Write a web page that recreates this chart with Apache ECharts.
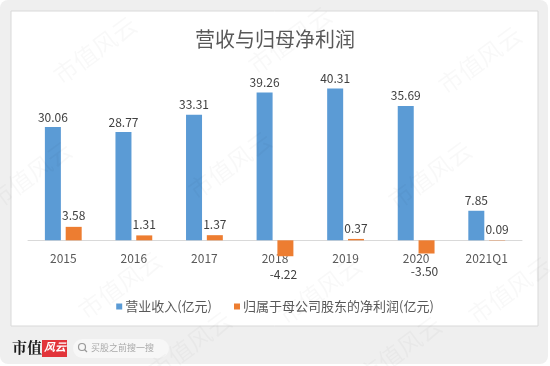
<!DOCTYPE html>
<html>
<head>
<meta charset="utf-8">
<script src="https://cdn.jsdelivr.net/npm/echarts@6/dist/echarts.min.js"></script>
<style>
  html, body { margin: 0; padding: 0; background: #fff; }
  #chart { width: 550px; height: 366px; }
</style>
</head>
<body>
<div id="chart"></div>
<script>
const categories = ["2015", "2016", "2017", "2018", "2019", "2020", "2021Q1"]
const revenue = [30.06, 28.77, 33.31, 39.26, 40.31, 35.69, 7.85]
const netProfit = [3.58, 1.31, 1.37, -4.22, 0.37, -3.50, 0.09]
const seriesNames = ["营业收入(亿元)", "归属于母公司股东的净利润(亿元)"]

const chart = echarts.init(document.getElementById("chart"))

const font = "Noto Sans CJK SC"

// faint tiled watermark
const marks = [
  [95, 50], [290, 40], [480, 60], [30, 175], [230, 165], [430, 175],
  [120, 285], [320, 290], [510, 290], [190, 345], [400, 350]
]
const watermark = marks.map(([x, y]) => ({
  type: "text",
  x: x,
  y: y,
  rotation: Math.PI / 5,
  z: 100,
  silent: true,
  style: {
    text: "市值风云",
    fill: "rgba(0,0,0,0.028)",
    font: "24px " + font,
    align: "center",
    verticalAlign: "middle"
  }
}))

const labelStyle = { color: "#404040", fontSize: 12, fontFamily: font }

const option = {
  backgroundColor: "#fff",
  animation: false,
  textStyle: { fontFamily: font },
  graphic: [
    {
      type: "rect",
      z: -10,
      shape: { x: 0, y: 0, width: 548, height: 364, r: 8 },
      style: { fill: "#efefef" }
    },
    {
      type: "rect",
      z: -9,
      shape: { x: 11, y: 11, width: 527, height: 315 },
      style: { fill: "#fff", stroke: "#d9d9d9", lineWidth: 1 }
    },
    {
      type: "text",
      x: 12,
      y: 340,
      style: { text: "市值", fill: "#1a1a1a", font: "bold 15px 'Noto Serif CJK SC', " + font }
    },
    {
      type: "rect",
      shape: { x: 42, y: 340, width: 25, height: 17 },
      style: { fill: "#e2343a" }
    },
    {
      type: "text",
      x: 44,
      y: 341,
      style: { text: "风云", fill: "#fff", font: "italic bold 11px " + font }
    },
    {
      type: "rect",
      shape: { x: 73, y: 339, width: 96, height: 19, r: 9.5 },
      style: { fill: "#f7f7f7" }
    },
    {
      type: "circle",
      shape: { cx: 82, cy: 347, r: 3.5 },
      style: { fill: "none", stroke: "#999", lineWidth: 1.2 }
    },
    {
      type: "line",
      shape: { x1: 84.5, y1: 349.5, x2: 87, y2: 352 },
      style: { stroke: "#999", lineWidth: 1.2 }
    },
    {
      type: "text",
      x: 91,
      y: 343,
      style: { text: "买股之前搜一搜", fill: "#aaa", font: "9px " + font }
    }
  ].concat(watermark),
  title: {
    text: "营收与归母净利润",
    left: "center",
    top: 24,
    textStyle: { fontSize: 20, fontWeight: "normal", color: "#595959", fontFamily: font }
  },
  legend: {
    data: seriesNames,
    bottom: 48,
    left: "center",
    itemWidth: 6,
    itemHeight: 6,
    itemGap: 22,
    icon: "rect",
    textStyle: { fontSize: 13, color: "#595959", fontFamily: font, padding: [0, 0, 0, -2] }
  },
  grid: {
    left: 28,
    right: 28,
    top: 52,
    height: 226
  },
  xAxis: {
    type: "category",
    data: categories,
    axisLine: { onZero: true, lineStyle: { color: "#d9d9d9" } },
    axisTick: { show: false },
    // labels sit just under the zero line, which is 38px above the grid bottom
    axisLabel: { color: "#595959", fontSize: 12, fontFamily: font, margin: -26 }
  },
  yAxis: {
    type: "value",
    min: -10,
    max: 50,
    axisLine: { show: false },
    axisTick: { show: false },
    axisLabel: { show: false },
    splitLine: { show: false }
  },
  series: [
    {
      name: seriesNames[0],
      type: "bar",
      data: revenue,
      barWidth: 16,
      barGap: "30%",
      itemStyle: { color: "#5b9bd5" },
      label: Object.assign({
        show: true,
        position: "top",
        distance: 4,
        formatter: p => p.value.toFixed(2)
      }, labelStyle)
    },
    {
      name: seriesNames[1],
      type: "bar",
      data: netProfit.map(v => ({
        value: v,
        label: v < 0
          ? { position: "bottom", distance: 12, offset: [-2, 0] }
          : { position: "top", distance: 5 }
      })),
      barWidth: 16,
      itemStyle: { color: "#ed7d31" },
      label: Object.assign({
        show: true,
        formatter: p => p.value.toFixed(2)
      }, labelStyle)
    }
  ]
}

chart.setOption(option)
</script>
</body>
</html>
